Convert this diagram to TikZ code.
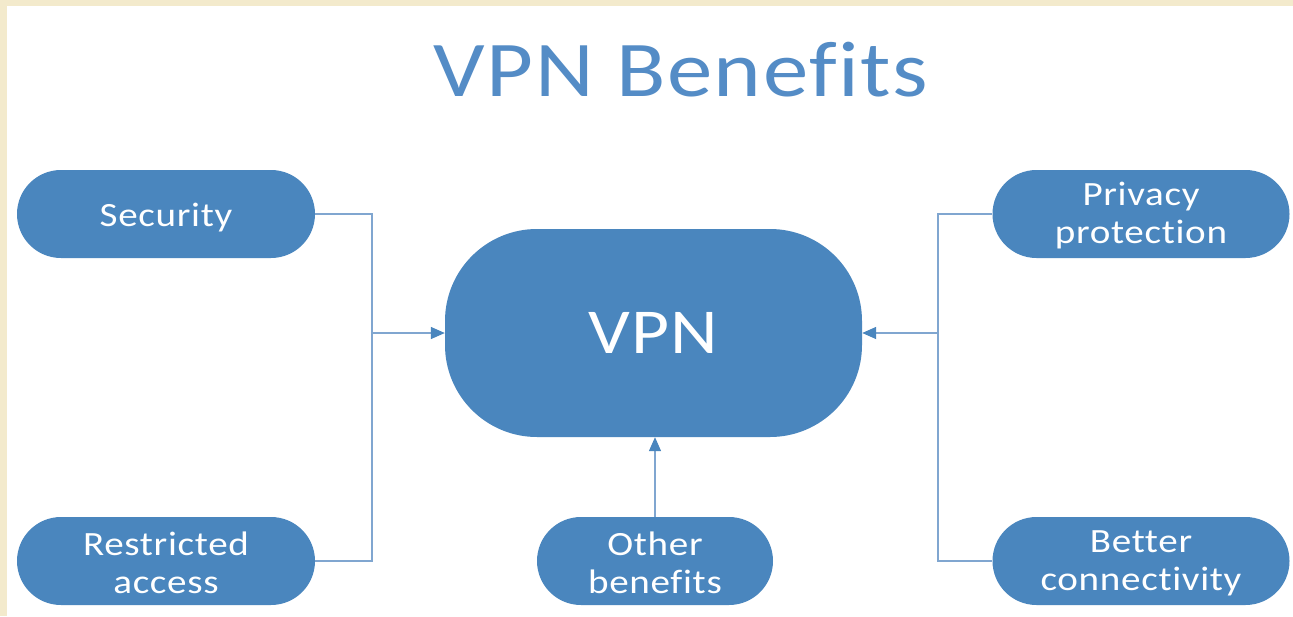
\documentclass[tikz,border=0pt]{standalone}
\usepackage{fontspec}
\setmainfont{Carlito}[FakeStretch=1.15, LetterSpace=2, Ligatures=NoCommon]
\usetikzlibrary{arrows.meta}
\definecolor{nodeblue}{RGB}{74,134,190}
\definecolor{titleblue}{RGB}{84,140,198}
\definecolor{lineblue}{RGB}{128,166,208}
\definecolor{parch}{RGB}{243,234,204}
\newcommand{\lowerit}{\rule{0pt}{27pt}}
\tikzset{
  pill/.style={fill=nodeblue, text=white, rounded corners=44pt, minimum height=88pt,
    inner sep=0pt, align=center, font=\fontsize{34}{38}\selectfont},
  conn/.style={draw=lineblue, line width=1.4pt},
  arr/.style={conn, -{Triangle[length=14pt,width=12pt,fill=nodeblue,color=nodeblue]}}
}
\begin{document}
\begin{tikzpicture}[x=1pt,y=-1pt]
\useasboundingbox (0,0) rectangle (1293,616);
\fill[parch] (0,0) rectangle (1293,616);
\fill[white] (7,6) rectangle (1293,616);
\node[text=titleblue, font=\fontsize{79}{90}\selectfont, inner sep=0pt] (title) at (681,70) {VPN Benefits};
\node[pill, minimum width=298pt, text height=25pt, text depth=1pt] (sec) at (166,214) {Security};
\node[pill, minimum width=298pt] (rest) at (166,561) {\lowerit Restricted\\access};
\node[pill, minimum width=297pt] (priv) at (1141,214) {\lowerit Privacy\\protection};
\node[pill, minimum width=297pt] (better) at (1141,561) {\lowerit Better\\connectivity};
\node[pill, minimum width=236pt] (other) at (655,561) {\lowerit Other\\benefits};
\node[fill=nodeblue, text=white, rounded corners=92pt, minimum width=417pt, minimum height=208pt,
  inner sep=0pt, font=\fontsize{64}{70}\selectfont] (vpn) at (653.5,333) {VPN};
\coordinate (jl) at (372,333);
\coordinate (jr) at (938,333);
\draw[conn] (sec.east) -| (jl) |- (rest.east);
\draw[conn] (priv.west) -| (jr) |- (better.west);
\draw[arr] (jl) -- (vpn.west);
\draw[arr] (jr) -- (vpn.east);
\draw[arr] (other.north) -- (other.north |- vpn.south);
\end{tikzpicture}
\end{document}
